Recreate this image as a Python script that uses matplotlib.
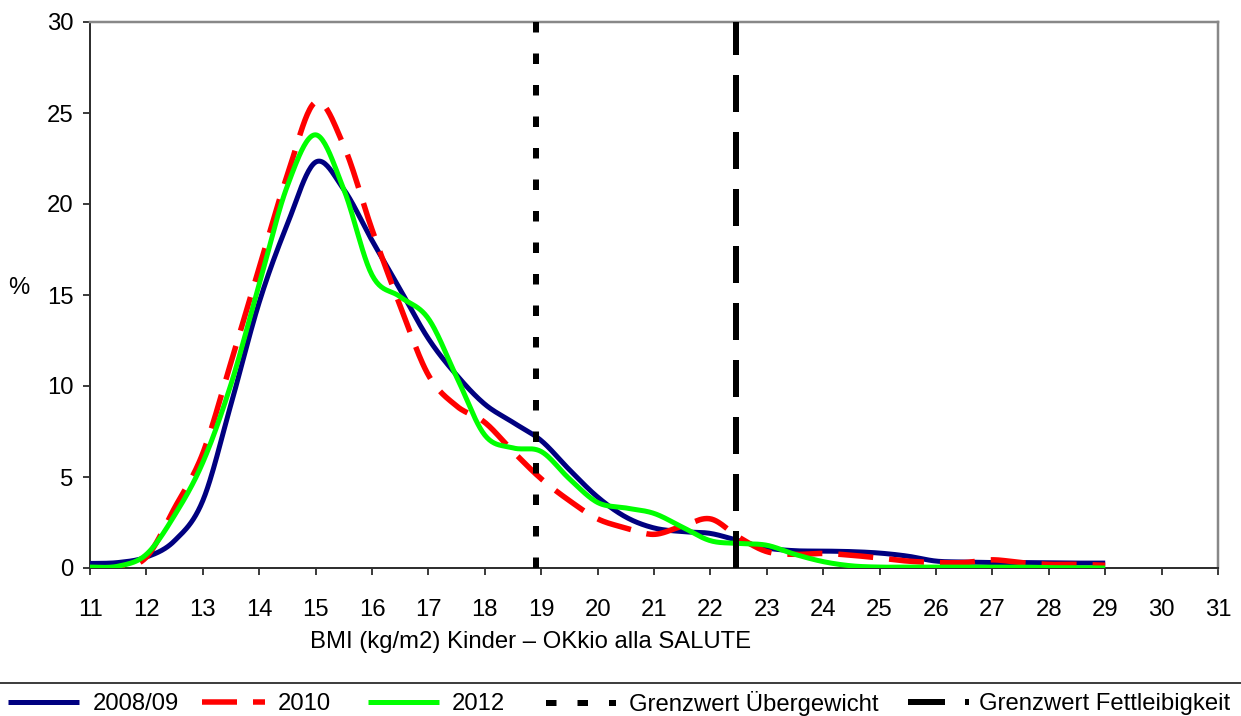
import numpy as np
import matplotlib
matplotlib.use("Agg")
import matplotlib.pyplot as plt
from matplotlib.lines import Line2D

plt.rcParams['font.family'] = ['Liberation Sans', 'DejaVu Sans']
plt.rcParams['lines.scale_dashes'] = False

# ---- data ----
bmi = [11, 11.5, 12, 12.5, 13, 13.5, 14, 14.5, 15, 15.5, 16, 16.5, 17, 17.5,
       18, 18.5, 19, 19.5, 20, 20.5, 21, 21.5, 22, 22.5, 23, 23.5, 24, 24.5,
       25, 25.5, 26, 26.5, 27, 27.5, 28, 28.5, 29]
pct_2008 = [0.25, 0.3, 0.6, 1.5, 3.7, 9.0, 14.6, 18.9, 22.3, 20.8, 18.0, 15.3,
            12.6, 10.6, 9.0, 8.0, 7.0, 5.4, 3.9, 2.8, 2.2, 2.0, 1.9, 1.5, 1.1,
            0.95, 0.93, 0.9, 0.82, 0.65, 0.38, 0.33, 0.3, 0.3, 0.28, 0.27, 0.27]
pct_2010 = [0.0, 0.0, 0.6, 3.3, 6.3, 11.3, 16.5, 21.6, 25.6, 23.2, 18.6, 14.4,
            10.6, 8.9, 8.0, 6.4, 4.9, 3.7, 2.7, 2.2, 1.85, 2.3, 2.7, 1.7, 0.9,
            0.75, 0.8, 0.7, 0.55, 0.38, 0.3, 0.3, 0.45, 0.3, 0.2, 0.2, 0.15]
pct_2012 = [0.05, 0.1, 0.75, 2.9, 5.8, 10.1, 15.6, 21.0, 23.8, 20.8, 16.1, 14.9,
            13.7, 10.5, 7.3, 6.6, 6.4, 4.9, 3.6, 3.3, 3.0, 2.25, 1.5, 1.35, 1.25,
            0.75, 0.35, 0.12, 0.05, 0.05, 0.05, 0.05, 0.05, 0.05, 0.02, 0.02, 0.0]
series_labels = ['2008/09', '2010', '2012']
cutoff_overweight = 18.9
cutoff_obesity = 22.45
cutoff_labels = ['Grenzwert Übergewicht', 'Grenzwert Fettleibigkeit']
x_ticks = list(range(11, 32))
y_ticks = [0, 5, 10, 15, 20, 25, 30]
x_label = 'BMI (kg/m2) Kinder – OKkio alla SALUTE'
y_label = '%'


def smooth(xs, ys, n=24):
    """Excel-like smoothed line (Catmull-Rom Bezier)."""
    p = np.column_stack([xs, ys]).astype(float)
    out = []
    m = len(p)
    t = np.linspace(0, 1, n, endpoint=False)[:, None]
    for i in range(m - 1):
        p0 = p[max(i - 1, 0)]
        p1 = p[i]
        p2 = p[i + 1]
        p3 = p[min(i + 2, m - 1)]
        c1 = p1 + (p2 - p0) / 6.0
        c2 = p2 - (p3 - p1) / 6.0
        seg = ((1 - t) ** 3) * p1 + 3 * ((1 - t) ** 2) * t * c1 + 3 * (1 - t) * t ** 2 * c2 + t ** 3 * p2
        out.append(seg)
    out.append(p[-1][None, :])
    out = np.vstack(out)
    return out[:, 0], out[:, 1]


W, H = 1241, 716
fig = plt.figure(figsize=(W / 100, H / 100), dpi=100)
ax = fig.add_axes([90 / W, 1 - 568 / H, (1218 - 90) / W, (568 - 22) / H])

fs = 17.2
px = 0.72  # points per pixel

xs, ys = smooth(bmi, pct_2008)
ax.plot(xs, ys, color='#000080', lw=5 * px, label=series_labels[0], solid_capstyle='butt', zorder=3)
xs, ys = smooth(bmi, pct_2010)
ax.plot(xs, ys, color='#FF0000', lw=5.5 * px, label=series_labels[1],
        linestyle=(0, (35 * px, 16 * px)), zorder=4)
xs, ys = smooth(bmi, pct_2012)
ax.plot(xs, ys, color='#00FF00', lw=5 * px, label=series_labels[2], solid_capstyle='butt', zorder=5)

ax.plot([cutoff_overweight, cutoff_overweight], [0, 30], color='black', lw=6 * px,
        linestyle=(0, (10.5 * px, 21 * px)), label=cutoff_labels[0], zorder=6)
ax.plot([cutoff_obesity, cutoff_obesity], [0, 30], color='black', lw=6 * px,
        linestyle=(0, (37 * px, 20 * px)), label=cutoff_labels[1], zorder=6)

ax.set_xlim(11, 31)
ax.set_ylim(0, 30)
ax.set_xticks(x_ticks)
ax.set_yticks(y_ticks)
ax.tick_params(axis='x', direction='out', length=7 * px, width=1.5 * px, pad=17, labelsize=fs, colors='black')
ax.tick_params(axis='y', direction='out', length=7 * px, width=1.5 * px, pad=7, labelsize=fs, colors='black')

for s in ['left', 'bottom']:
    ax.spines[s].set_color('#303030')
    ax.spines[s].set_linewidth(2 * px)
for s in ['top', 'right']:
    ax.spines[s].set_color('#888888')
    ax.spines[s].set_linewidth(2.5 * px)

ax.set_xlabel(x_label, fontsize=fs)
ax.xaxis.label.set_va('center')
ax.xaxis.set_label_coords((531 - 90) / 1128, -(642 - 568) / 546)
ax.set_ylabel(y_label, fontsize=fs, rotation=0)
ax.yaxis.label.set_va('center')
ax.yaxis.set_label_coords((19 - 90) / 1128, (568 - 288) / 546)

# separator line above legend
fig.add_artist(Line2D([0, 1], [1 - 683 / H, 1 - 683 / H], transform=fig.transFigure,
                      color='#404040', lw=2 * px))

# legend entries: one small legend per entry, placed like the reference
handles, labels = ax.get_legend_handles_labels()
em = fs / px  # font size in pixels
legend_left = [8, 202, 368, 546, 908]
legend_handle_len = [71, 63, 71, 70, 61]
legend_text_start = [93, 278, 452, 629, 979]
for h, lab, x0, hl, tx in zip(handles, labels, legend_left, legend_handle_len, legend_text_start):
    fig.legend([h], [lab], loc='center left', bbox_to_anchor=(x0 / W, 1 - 704 / H),
               frameon=False, fontsize=fs, handlelength=hl / em,
               handletextpad=(tx - x0 - hl) / em, borderaxespad=0, borderpad=0)

fig.savefig('out.png', dpi=100)
